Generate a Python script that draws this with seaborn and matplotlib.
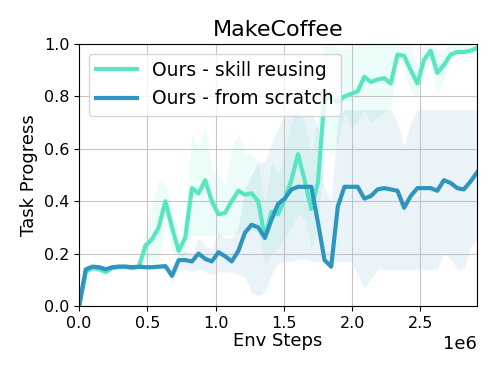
import matplotlib
matplotlib.use("Agg")
import matplotlib.pyplot as plt
import numpy as np
import pandas as pd
import seaborn as sns

n_points = 61
max_step = 2.916e6

reuse_mean = [
    0.0, 0.13, 0.145, 0.14, 0.13, 0.145, 0.15, 0.15, 0.145, 0.15,
    0.23, 0.255, 0.30, 0.40, 0.30, 0.21, 0.26, 0.45, 0.43, 0.48,
    0.40, 0.35, 0.355, 0.40, 0.44, 0.425, 0.43, 0.40, 0.26, 0.36,
    0.35, 0.41, 0.48, 0.58, 0.48, 0.37, 0.47, 0.80, 0.79, 0.78,
    0.80, 0.81, 0.82, 0.875, 0.855, 0.865, 0.87, 0.85, 0.96, 0.955,
    0.90, 0.85, 0.94, 0.975, 0.89, 0.92, 0.96, 0.97, 0.97, 0.975, 0.985,
]
reuse_low = [
    0.0, 0.12, 0.135, 0.13, 0.12, 0.135, 0.14, 0.14, 0.135, 0.14,
    0.17, 0.16, 0.17, 0.30, 0.22, 0.17, 0.20, 0.27, 0.27, 0.27,
    0.27, 0.27, 0.27, 0.27, 0.28, 0.28, 0.29, 0.28, 0.15, 0.20,
    0.22, 0.26, 0.30, 0.35, 0.33, 0.22, 0.30, 0.60, 0.58, 0.62,
    0.74, 0.68, 0.70, 0.75, 0.70, 0.72, 0.74, 0.76, 0.94, 0.90,
    0.82, 0.80, 0.89, 0.93, 0.81, 0.87, 0.95, 0.96, 0.96, 0.96, 0.97,
]
reuse_high = [
    0.0, 0.14, 0.155, 0.15, 0.14, 0.155, 0.16, 0.16, 0.155, 0.16,
    0.30, 0.39, 0.48, 0.46, 0.38, 0.24, 0.36, 0.66, 0.60, 0.70,
    0.52, 0.50, 0.46, 0.60, 0.66, 0.58, 0.58, 0.55, 0.40, 0.55,
    0.50, 0.60, 0.70, 0.76, 0.70, 0.58, 0.72, 1.0, 1.0, 0.98,
    0.98, 0.98, 1.0, 1.0, 1.0, 1.0, 1.0, 1.0, 1.0, 1.0,
    1.0, 0.92, 1.0, 1.0, 0.98, 0.98, 1.0, 1.0, 1.0, 1.0, 1.0,
]

scratch_mean = [
    0.0, 0.14, 0.15, 0.148, 0.14, 0.148, 0.15, 0.15, 0.148, 0.15,
    0.148, 0.148, 0.15, 0.152, 0.115, 0.175, 0.175, 0.17, 0.20, 0.18,
    0.17, 0.205, 0.19, 0.17, 0.21, 0.28, 0.31, 0.30, 0.26, 0.33,
    0.39, 0.41, 0.445, 0.455, 0.455, 0.455, 0.32, 0.175, 0.15, 0.38,
    0.455, 0.455, 0.455, 0.41, 0.42, 0.445, 0.45, 0.445, 0.44, 0.375,
    0.42, 0.45, 0.45, 0.45, 0.44, 0.48, 0.47, 0.45, 0.445, 0.475, 0.51,
]
scratch_low = [
    0.0, 0.13, 0.14, 0.138, 0.13, 0.138, 0.14, 0.14, 0.138, 0.14,
    0.138, 0.138, 0.14, 0.142, 0.09, 0.14, 0.14, 0.13, 0.14, 0.13,
    0.12, 0.13, 0.13, 0.13, 0.12, 0.11, 0.05, 0.04, 0.05, 0.12,
    0.16, 0.17, 0.17, 0.18, 0.18, 0.17, 0.17, 0.17, 0.16, 0.17,
    0.17, 0.17, 0.12, 0.07, 0.10, 0.14, 0.14, 0.14, 0.14, 0.14,
    0.14, 0.14, 0.14, 0.14, 0.14, 0.20, 0.18, 0.14, 0.14, 0.22, 0.26,
]
scratch_high = [
    0.0, 0.15, 0.16, 0.158, 0.15, 0.158, 0.16, 0.16, 0.158, 0.16,
    0.158, 0.158, 0.16, 0.162, 0.14, 0.20, 0.21, 0.20, 0.26, 0.23,
    0.22, 0.28, 0.26, 0.26, 0.30, 0.45, 0.50, 0.55, 0.55, 0.62,
    0.68, 0.73, 0.76, 0.75, 0.76, 0.74, 0.68, 0.45, 0.40, 0.72,
    0.75, 0.75, 0.75, 0.75, 0.75, 0.75, 0.75, 0.75, 0.70, 0.61,
    0.70, 0.75, 0.75, 0.75, 0.75, 0.75, 0.75, 0.75, 0.75, 0.75, 0.75,
]

labels = ["Ours - skill reusing", "Ours - from scratch"]
colors = ["#57e6c1", "#2e96be"]

steps = np.linspace(0, max_step, n_points)
df = pd.concat([
    pd.DataFrame({"step": steps, "progress": reuse_mean, "method": labels[0]}),
    pd.DataFrame({"step": steps, "progress": scratch_mean, "method": labels[1]}),
])

fig = plt.figure(figsize=(4.98, 3.74), dpi=100)
ax = fig.add_axes([0.159, 0.182, 0.799, 0.70])

ax.fill_between(steps, reuse_low, reuse_high, color=colors[0], alpha=0.11, lw=0)
ax.fill_between(steps, scratch_low, scratch_high, color="#3a8fc0", alpha=0.1, lw=0)
sns.lineplot(data=df, x="step", y="progress", hue="method", palette=colors,
             linewidth=3, ax=ax)

ax.set_xlim(0, max_step)
ax.set_ylim(0, 1.0)
ax.grid(True, color="#b8b8b8", linewidth=0.8, alpha=0.8)
ax.set_title("MakeCoffee", fontsize=16)
ax.set_xlabel("Env Steps", fontsize=13, labelpad=1)
ax.set_ylabel("Task Progress", fontsize=13)
ax.tick_params(labelsize=11.5)
ax.xaxis.get_offset_text().set_fontsize(13)
ax.legend(loc="upper left", fontsize=13.5, handlelength=2.2)

fig.savefig("out.png", dpi=100)
